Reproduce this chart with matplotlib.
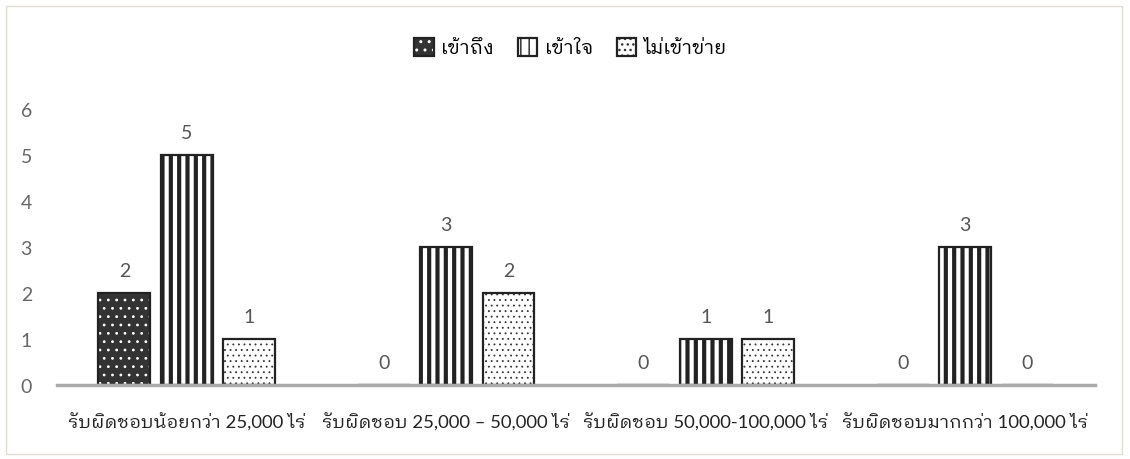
import matplotlib
matplotlib.use("Agg")
import matplotlib.pyplot as plt
from matplotlib.legend_handler import HandlerTuple
from matplotlib.patches import Rectangle
import numpy as np

categories = ["รับผิดชอบน้อยกว่า 25,000 ไร่", "รับผิดชอบ 25,000 – 50,000 ไร่",
              "รับผิดชอบ 50,000-100,000 ไร่", "รับผิดชอบมากกว่า 100,000 ไร่"]
series_names = ["เข้าถึง", "เข้าใจ", "ไม่เข้าข่าย"]
reach = [2, 0, 0, 0]
understand = [5, 3, 1, 3]
not_apply = [1, 2, 1, 0]

# Lato for digits/latin, looped Thai font for the Thai glyphs
plt.rcParams["font.family"] = ["Lato", "IBM Plex Sans Thai Looped", "Noto Sans Thai Looped", "DejaVu Sans"]

fig = plt.figure(figsize=(11.3, 4.6), dpi=100)
ax = fig.add_axes([0.0504, 0.1609, 0.9186, 0.6])
ax.set_ylim(0, 6)
ax.set_xlim(-0.5, 3.5)

x = np.arange(len(categories))
w = 0.2
gap = 0.04
styles = [
    dict(face="#333333", hatch="..", hcol="white", hlw=0.8),
    dict(face="white", hatch="||", hcol="#222222", hlw=3.0),
    dict(face="white", hatch="...", hcol="#333333", hlw=0.6),
]
handles = []
for i, vals in enumerate([reach, understand, not_apply]):
    pos = x + (i - 1) * (w + gap)
    st = styles[i]
    with plt.rc_context({"hatch.linewidth": st["hlw"]}):
        b1 = ax.bar(pos, vals, w, color=st["face"], edgecolor=st["hcol"], hatch=st["hatch"], linewidth=0)
    for p in b1:
        if hasattr(p, "set_hatch_linewidth"):
            p.set_hatch_linewidth(st["hlw"])
    b2 = ax.bar(pos, vals, w, fill=False, edgecolor="#222222", linewidth=1.6)
    handles.append((b1[0], b2[0]))
    for p, v in zip(pos, vals):
        ax.text(p, v + 0.3, str(v), ha="center", va="bottom", fontsize=14, color="#555555")

fig.legend(handles, series_names, handler_map={tuple: HandlerTuple(ndivide=1)},
           loc="center", bbox_to_anchor=(0.505, 0.895), ncol=3, frameon=False,
           fontsize=14, handlelength=1.0, handleheight=1.0, handletextpad=0.4,
           columnspacing=1.2)

for s in ["top", "right", "left"]:
    ax.spines[s].set_visible(False)
ax.spines["bottom"].set_color("#aaaaaa")
ax.spines["bottom"].set_linewidth(2.5)
ax.set_xticks(x)
ax.set_xticklabels(categories, fontsize=13.3, color="#222222")
ax.set_yticks(range(7))
ax.tick_params(axis="y", length=0, labelsize=14, labelcolor="#666666", pad=18)
ax.tick_params(axis="x", length=0, pad=20)

fig.patches.append(Rectangle((0.005, 0.01), 0.988, 0.975, transform=fig.transFigure,
                             fill=False, edgecolor="#e0dccf", linewidth=1))
fig.savefig("out.png", dpi=100)
